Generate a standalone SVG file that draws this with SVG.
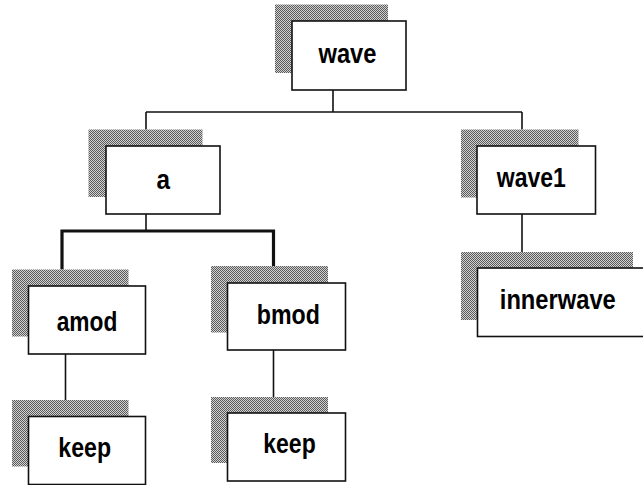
<svg xmlns="http://www.w3.org/2000/svg" width="643" height="485" viewBox="0 0 643 485">
  <defs>
    <pattern id="dither" width="2" height="2" patternUnits="userSpaceOnUse">
      <rect width="2" height="2" fill="#d2d2d2"/>
      <rect x="0" y="0" width="1" height="1" fill="#5a5a5a"/>
      <rect x="1" y="1" width="1" height="1" fill="#5a5a5a"/>
    </pattern>
  </defs>
  <style>
    .shadow { fill: url(#dither); }
    .box { fill: #fff; stroke: #111; stroke-width: 1.6; }
    .lbl { font-family: "Liberation Sans", Arial, sans-serif; font-weight: bold; font-size: 27px; fill: #000; text-anchor: middle; }
    .wire { stroke: #111; stroke-width: 1.6; fill: none; }
    .wire.heavy { stroke-width: 3.2; }
  </style>
  <rect width="643" height="485" fill="#fff"/>

  <g id="connectors">
    <path class="wire" d="M333 90 V112 M146 112 H522 M146 112 V129.5 M522 112 V129.5"/>
    <path class="wire" d="M522 214 V252"/>
    <path class="wire" d="M146 214 V231"/>
    <path class="wire heavy" d="M62 269.5 V231 H273.5 V266"/>
    <path class="wire" d="M65.5 354 V400"/>
    <path class="wire" d="M273.5 350 V397"/>
  </g>

  <g id="node-wave">
    <rect class="shadow" x="275" y="4.5" width="113" height="68.5"/>
    <rect class="box" x="292" y="21" width="114" height="69"/>
    <text class="lbl" x="347.5" y="63" textLength="58" lengthAdjust="spacingAndGlyphs">wave</text>
  </g>

  <g id="node-a">
    <rect class="shadow" x="88.5" y="129.5" width="114" height="67.5"/>
    <rect class="box" x="106" y="146" width="114" height="68"/>
    <text class="lbl" x="163.3" y="189" textLength="13.5" lengthAdjust="spacingAndGlyphs">a</text>
  </g>

  <g id="node-wave1">
    <rect class="shadow" x="461" y="129.5" width="117.5" height="68"/>
    <rect class="box" x="477" y="146" width="118.5" height="68"/>
    <text class="lbl" x="531.3" y="186.7" textLength="69" lengthAdjust="spacingAndGlyphs">wave1</text>
  </g>

  <g id="node-innerwave">
    <rect class="shadow" x="461" y="252" width="172" height="68"/>
    <rect class="box" x="477.5" y="268" width="180" height="68.5"/>
    <text class="lbl" x="557.8" y="309" textLength="116" lengthAdjust="spacingAndGlyphs">innerwave</text>
  </g>

  <g id="node-amod">
    <rect class="shadow" x="12" y="269.5" width="116.5" height="67"/>
    <rect class="box" x="28.5" y="286" width="117" height="68"/>
    <text class="lbl" x="87" y="331" textLength="60.6" lengthAdjust="spacingAndGlyphs">amod</text>
  </g>

  <g id="node-keep-amod">
    <rect class="shadow" x="12" y="400" width="116.5" height="66.5"/>
    <rect class="box" x="28.5" y="416.5" width="117" height="68"/>
    <text class="lbl" x="84.7" y="456.5" textLength="52.7" lengthAdjust="spacingAndGlyphs">keep</text>
  </g>

  <g id="node-bmod">
    <rect class="shadow" x="211" y="266" width="117" height="66.5"/>
    <rect class="box" x="227.5" y="283" width="118" height="67"/>
    <text class="lbl" x="288.3" y="324" textLength="63" lengthAdjust="spacingAndGlyphs">bmod</text>
  </g>

  <g id="node-keep-bmod">
    <rect class="shadow" x="211" y="397" width="117" height="66"/>
    <rect class="box" x="227.5" y="413" width="118" height="68"/>
    <text class="lbl" x="289.5" y="453.3" textLength="52.4" lengthAdjust="spacingAndGlyphs">keep</text>
  </g>
</svg>
